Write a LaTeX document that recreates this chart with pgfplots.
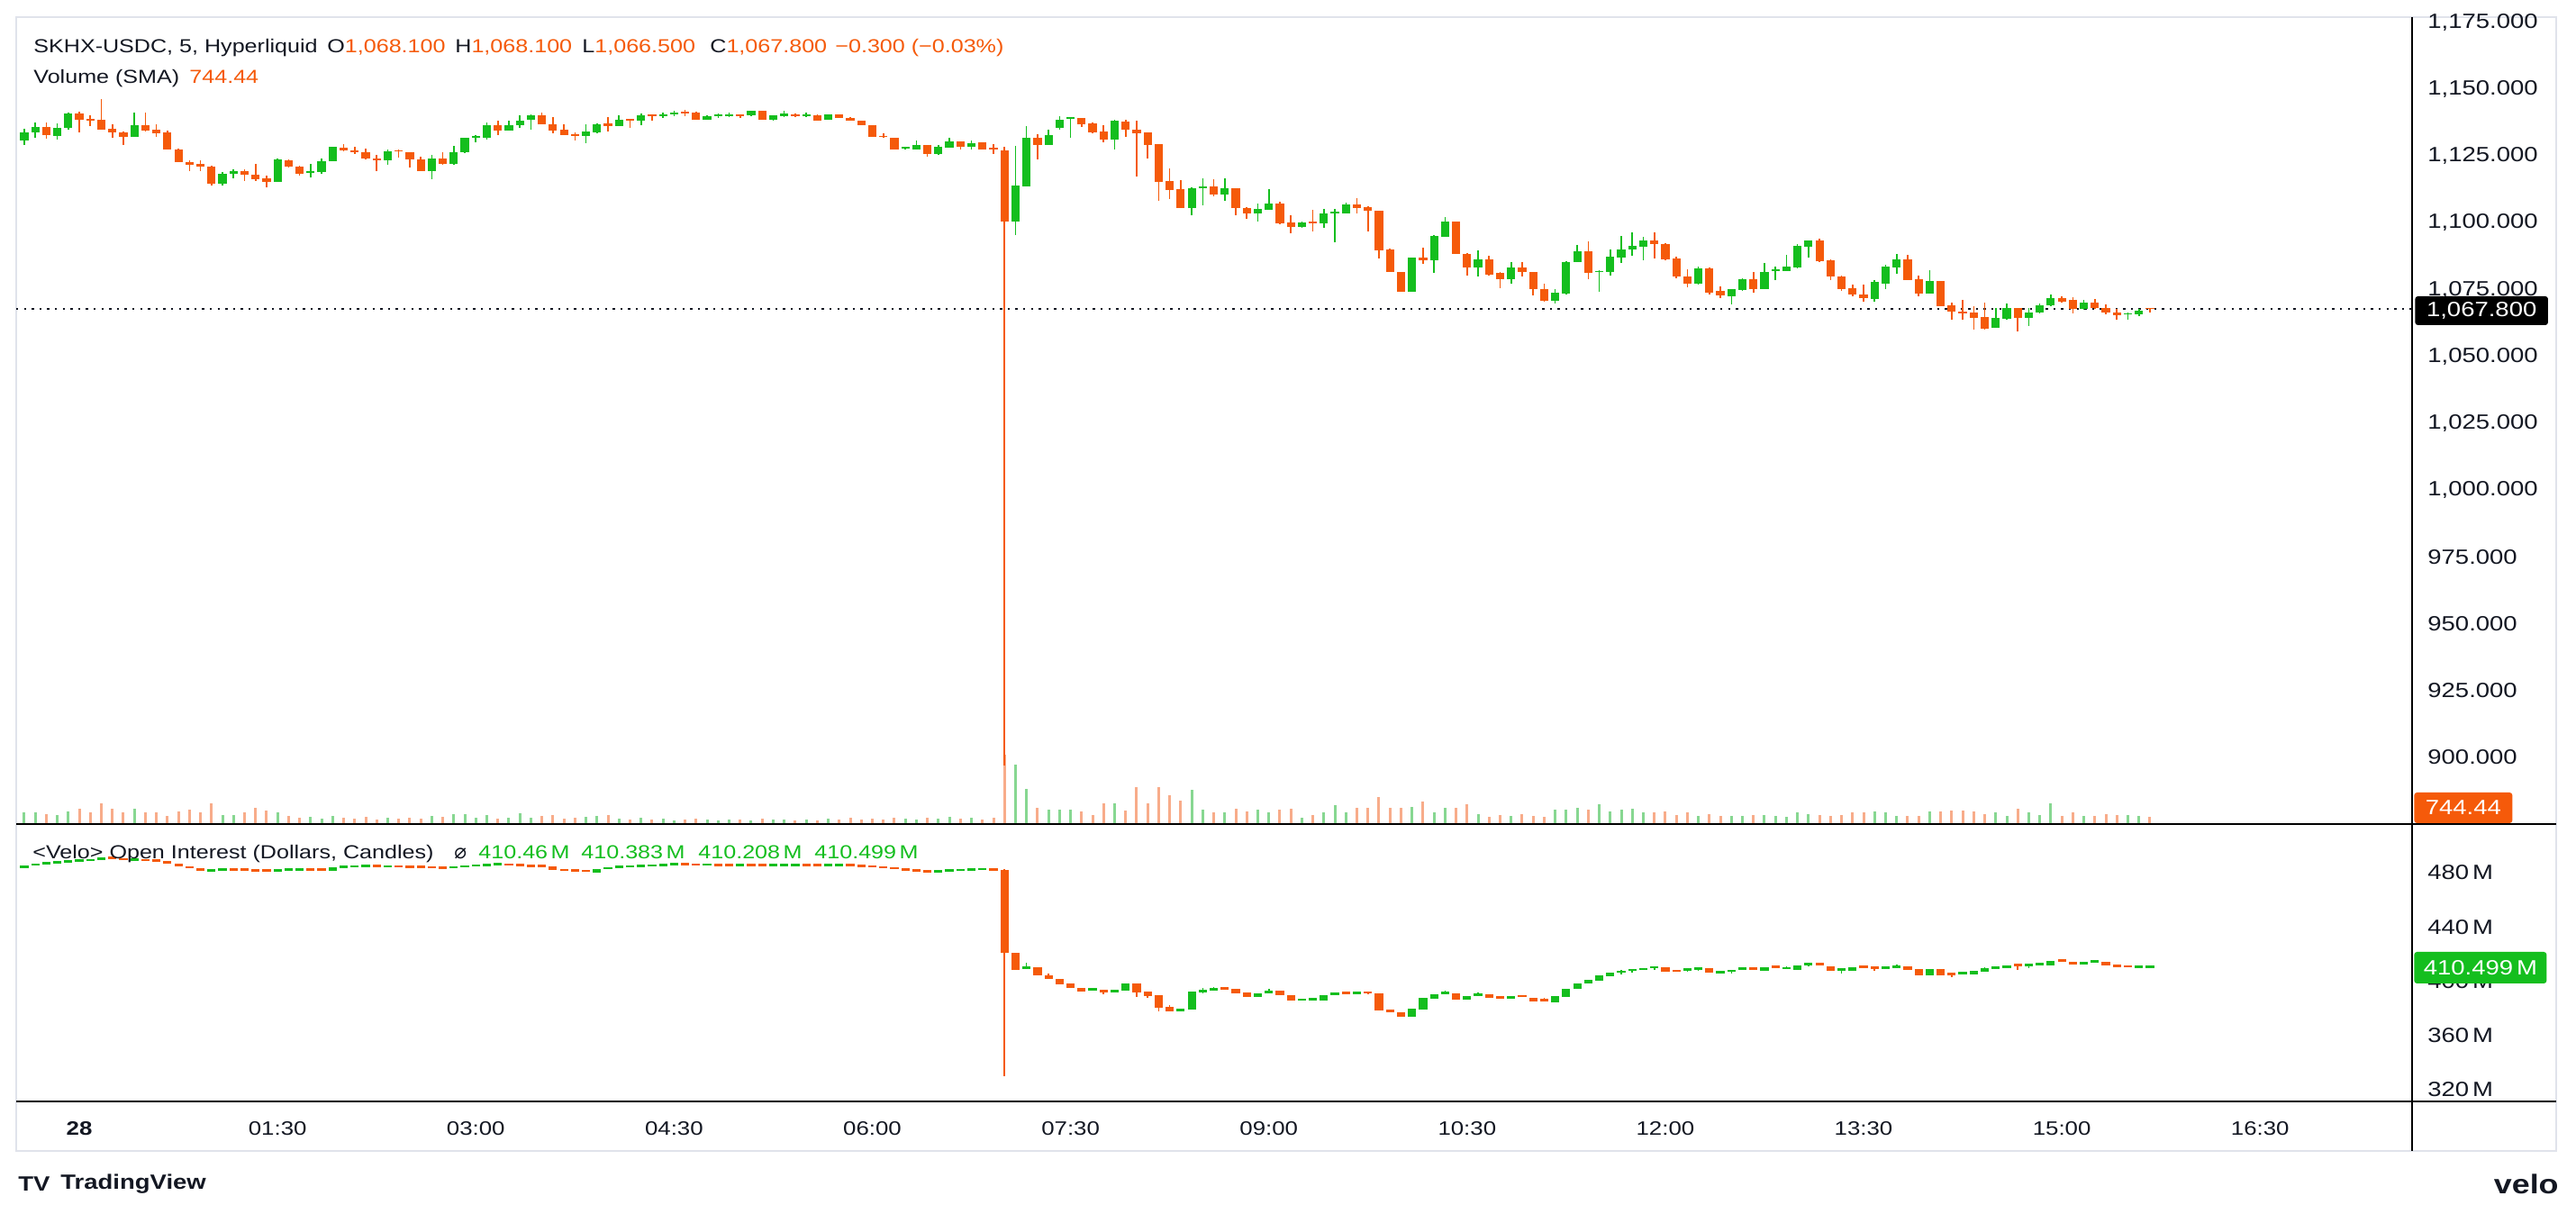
\documentclass[border=0pt]{standalone}
\usepackage{pgfplots}
\pgfplotsset{compat=1.18}
\usepackage{pgfplotstable}
\usepackage{fontspec}
\setmainfont[FakeStretch=1.2]{Liberation Sans}
\newfontfamily\djv{DejaVu Sans}
\definecolor{cg}{RGB}{20,190,30}
\definecolor{co}{RGB}{245,90,10}
\definecolor{vg}{RGB}{135,215,145}
\definecolor{vo}{RGB}{248,172,138}
\definecolor{txt}{RGB}{19,23,34}
\definecolor{frm}{RGB}{224,227,235}

\pgfplotstableread{
n o h l c v
1 1130.9 1135.1 1129.2 1133.9 744
2 1133.7 1137.6 1131.7 1135.9 744
3 1135.9 1137.6 1131.4 1132.8 620
4 1132.6 1137.3 1131.2 1135.7 558
5 1135.4 1141.3 1135.0 1141.0 806
6 1141.0 1141.5 1133.7 1138.4 992
7 1138.7 1140.2 1136.2 1138.4 744
8 1138.5 1146.3 1134.8 1135.0 1364
9 1135.1 1136.8 1131.7 1133.7 992
10 1133.9 1134.2 1129.2 1132.3 744
11 1132.3 1141.3 1132.3 1136.5 992
12 1136.5 1141.3 1134.2 1134.5 744
13 1134.8 1136.8 1132.0 1133.5 744
14 1133.7 1134.6 1127.3 1127.3 496
15 1127.5 1127.9 1122.7 1122.7 806
16 1122.7 1123.4 1119.5 1121.8 930
17 1121.9 1123.4 1119.5 1121.1 744
18 1121.1 1121.3 1114.0 1114.8 1364
19 1114.8 1119.1 1114.0 1118.5 558
20 1118.2 1120.0 1116.6 1119.4 558
21 1119.3 1119.9 1115.7 1118.0 744
22 1118.0 1122.1 1115.7 1116.3 1054
23 1116.6 1117.8 1113.3 1115.4 868
24 1115.2 1124.2 1115.2 1123.6 744
25 1123.4 1123.6 1120.8 1121.0 496
26 1121.1 1121.3 1117.8 1118.2 372
27 1118.9 1121.9 1116.9 1119.3 434
28 1118.9 1124.2 1118.5 1123.0 310
29 1122.9 1128.6 1122.9 1128.3 496
30 1128.1 1129.4 1126.7 1127.0 372
31 1127.0 1128.6 1125.6 1126.5 310
32 1126.4 1127.9 1123.8 1124.0 434
33 1124.0 1125.3 1119.5 1123.6 248
34 1123.4 1127.5 1121.6 1126.7 372
35 1127.2 1127.5 1124.5 1126.7 310
36 1126.4 1126.4 1120.8 1123.6 372
37 1123.8 1124.7 1119.3 1119.3 310
38 1119.3 1125.3 1116.2 1124.0 496
39 1124.2 1126.4 1121.6 1122.1 434
40 1122.2 1128.9 1121.6 1126.4 620
41 1126.4 1132.0 1126.2 1131.7 620
42 1131.9 1132.8 1130.1 1132.2 372
43 1131.7 1137.6 1131.2 1136.5 558
44 1136.5 1138.4 1132.8 1134.5 310
45 1134.5 1138.4 1134.5 1136.5 372
46 1136.4 1140.2 1135.7 1138.4 682
47 1138.4 1140.6 1135.0 1140.2 372
48 1140.2 1141.3 1136.8 1136.8 496
49 1136.8 1139.5 1133.5 1134.6 558
50 1135.0 1136.8 1132.8 1132.8 310
51 1133.1 1133.7 1130.9 1132.6 372
52 1132.6 1136.8 1129.8 1134.2 434
53 1133.9 1137.3 1133.5 1136.8 496
54 1137.1 1139.5 1134.2 1136.2 558
55 1136.2 1140.2 1136.2 1138.6 310
56 1138.7 1138.7 1135.4 1138.5 248
57 1138.2 1141.0 1136.5 1140.2 372
58 1140.6 1140.6 1138.2 1140.2 248
59 1139.9 1141.3 1139.1 1140.6 310
60 1140.6 1141.8 1139.9 1141.3 186
61 1141.5 1142.4 1139.9 1141.1 248
62 1141.3 1141.5 1138.7 1138.7 310
63 1138.7 1140.2 1138.4 1139.9 248
64 1140.0 1141.0 1139.1 1140.4 186
65 1140.2 1141.3 1139.5 1140.6 248
66 1140.6 1140.6 1139.1 1140.2 248
67 1140.2 1142.0 1139.9 1141.8 186
68 1141.8 1142.0 1138.7 1138.7 310
69 1138.6 1140.2 1138.2 1140.2 248
70 1140.0 1141.8 1139.7 1141.0 248
71 1140.6 1141.0 1139.7 1139.9 186
72 1140.2 1141.3 1139.7 1140.6 248
73 1140.4 1140.6 1138.4 1138.4 186
74 1138.4 1140.6 1138.4 1140.6 310
75 1140.6 1140.6 1139.1 1139.1 248
76 1139.3 1139.7 1138.2 1138.2 372
77 1138.4 1138.4 1136.5 1136.5 248
78 1136.5 1136.5 1132.0 1132.0 310
79 1132.6 1133.5 1132.0 1132.1 248
80 1131.9 1132.0 1127.3 1127.3 372
81 1127.7 1128.6 1127.5 1128.3 310
82 1127.5 1130.9 1127.3 1129.2 248
83 1129.2 1129.2 1124.7 1125.6 372
84 1125.6 1129.2 1125.3 1128.3 310
85 1128.1 1131.7 1128.1 1130.5 434
86 1130.5 1130.5 1127.5 1128.6 310
87 1128.6 1130.9 1127.5 1129.8 372
88 1130.1 1130.3 1127.5 1127.5 248
89 1128.1 1129.4 1125.6 1127.6 372
90 1127.2 1128.6 897.0 1100.4 4712
91 1100.4 1128.9 1095.3 1114.0 4030
92 1113.7 1136.2 1113.7 1131.7 2356
93 1131.7 1133.1 1123.6 1129.2 1054
94 1129.2 1134.8 1129.2 1132.8 930
95 1135.7 1139.9 1135.0 1138.7 930
96 1139.1 1139.5 1131.7 1139.3 930
97 1139.1 1139.3 1135.7 1136.8 806
98 1137.1 1137.6 1133.5 1134.0 558
99 1134.2 1136.5 1130.3 1131.2 1364
100 1131.2 1138.4 1127.5 1138.2 1364
101 1138.0 1138.4 1132.0 1134.8 868
102 1135.0 1138.4 1117.2 1133.5 2480
103 1133.7 1133.8 1124.1 1129.2 1364
104 1129.5 1129.6 1108.4 1115.2 2480
105 1115.5 1120.4 1109.0 1112.4 1922
106 1112.7 1116.0 1105.4 1105.6 1550
107 1105.6 1113.3 1103.0 1113.1 2294
108 1113.1 1116.6 1106.7 1113.7 930
109 1113.5 1116.3 1109.8 1110.7 744
110 1110.7 1116.6 1108.1 1112.9 744
111 1112.9 1112.9 1103.0 1105.4 992
112 1105.6 1105.9 1101.4 1103.4 806
113 1103.4 1107.3 1100.6 1105.1 930
114 1104.7 1112.6 1104.7 1107.3 744
115 1107.3 1107.9 1099.5 1099.7 930
116 1100.0 1102.8 1096.1 1098.3 992
117 1098.3 1100.6 1098.0 1100.2 372
118 1100.6 1104.8 1096.6 1100.0 558
119 1099.7 1105.3 1098.0 1103.6 744
120 1103.7 1105.3 1092.7 1104.3 1240
121 1103.6 1107.6 1103.6 1107.0 744
122 1107.0 1109.3 1103.6 1105.4 1054
123 1105.8 1106.2 1096.6 1104.5 1054
124 1104.5 1104.5 1086.5 1089.6 1798
125 1089.9 1090.5 1081.5 1081.5 1054
126 1081.7 1081.7 1074.2 1074.2 1054
127 1074.2 1087.1 1074.2 1087.1 1116
128 1087.1 1090.8 1084.5 1086.0 1488
129 1086.0 1095.3 1081.2 1095.0 744
130 1094.6 1102.0 1094.6 1100.6 1054
131 1100.6 1100.6 1088.2 1088.2 1054
132 1088.5 1088.8 1080.2 1083.2 1302
133 1083.2 1089.7 1079.8 1086.2 620
134 1086.2 1087.7 1080.2 1080.7 434
135 1081.2 1081.5 1075.5 1079.0 558
136 1079.0 1085.4 1077.2 1083.4 496
137 1083.4 1085.2 1079.8 1081.5 620
138 1081.7 1081.7 1072.7 1075.1 496
139 1075.3 1077.3 1070.6 1070.8 434
140 1070.8 1075.3 1069.7 1074.0 930
141 1073.6 1085.8 1073.3 1085.4 930
142 1085.2 1091.8 1085.2 1089.4 1054
143 1089.4 1093.1 1079.0 1081.3 930
144 1081.5 1082.3 1074.2 1082.1 1302
145 1081.7 1089.9 1080.4 1087.4 806
146 1087.1 1095.0 1084.9 1090.1 930
147 1089.9 1096.3 1087.7 1091.3 992
148 1091.0 1094.6 1086.0 1093.3 744
149 1093.3 1096.6 1086.8 1091.9 744
150 1092.1 1092.4 1086.0 1086.2 806
151 1086.6 1087.4 1079.2 1079.8 558
152 1080.0 1082.6 1075.9 1077.3 744
153 1077.3 1083.5 1076.8 1082.9 496
154 1082.9 1083.2 1073.1 1074.0 620
155 1074.4 1076.2 1071.9 1072.7 496
156 1072.5 1075.3 1069.4 1075.1 496
157 1074.8 1079.2 1074.4 1079.0 496
158 1079.0 1081.5 1074.0 1075.3 558
159 1075.3 1084.9 1075.3 1081.7 558
160 1081.8 1083.5 1078.5 1082.5 496
161 1081.8 1087.9 1081.8 1083.7 434
162 1083.4 1092.2 1082.8 1091.3 744
163 1091.0 1093.3 1086.9 1093.3 620
164 1093.3 1094.2 1085.4 1085.7 558
165 1086.0 1086.3 1078.7 1079.8 496
166 1080.0 1080.4 1074.4 1075.3 558
167 1075.7 1076.8 1072.5 1073.1 744
168 1073.3 1076.8 1070.6 1071.7 744
169 1071.4 1078.4 1070.5 1077.8 806
170 1077.3 1084.3 1075.1 1083.5 744
171 1083.2 1088.2 1080.9 1086.2 496
172 1086.2 1087.9 1078.7 1078.7 496
173 1079.0 1080.2 1072.5 1073.6 496
174 1073.6 1082.4 1073.6 1078.4 806
175 1078.4 1078.4 1068.9 1068.9 806
176 1069.2 1070.3 1063.7 1066.9 868
177 1066.9 1071.1 1063.7 1066.1 868
178 1066.3 1068.9 1060.2 1064.4 806
179 1064.7 1070.3 1059.9 1060.5 620
180 1060.7 1068.2 1060.7 1064.3 744
181 1064.1 1069.9 1063.8 1068.2 496
182 1068.2 1068.2 1059.4 1064.3 992
183 1064.4 1068.2 1061.3 1066.6 744
184 1066.3 1069.9 1066.1 1069.2 558
185 1069.2 1073.1 1068.9 1071.9 1364
186 1071.9 1072.5 1070.1 1070.6 496
187 1071.1 1072.3 1066.1 1067.7 744
188 1067.7 1071.1 1067.5 1070.3 496
189 1070.3 1071.6 1067.7 1068.0 496
190 1068.0 1069.5 1065.6 1066.3 620
191 1066.6 1067.7 1063.8 1065.5 558
192 1065.8 1066.6 1063.8 1066.1 558
193 1065.8 1067.8 1065.2 1067.1 496
194 1068.1 1068.1 1066.5 1067.8 434
}\price

\pgfplotstableread{
n o h l c
1 483.3 485.4 483.3 485.4
2 485.4 486.5 485.4 486.5
3 486.5 487.5 486.5 487.5
4 487.5 488.0 487.5 488.0
5 488.0 488.5 488.0 488.5
6 488.5 489.0 488.5 489.0
7 489.0 489.5 489.0 489.5
8 489.5 491.0 489.5 491.0
9 491.0 491.0 490.5 490.5
10 490.5 490.5 489.5 489.5
11 489.5 489.6 489.5 489.6
12 489.6 489.6 489.0 489.0
13 489.0 489.0 488.6 488.6
14 488.6 488.6 486.5 486.5
15 486.5 486.5 484.5 484.5
16 484.5 484.5 483.4 483.4
17 483.4 483.4 481.6 481.6
18 481.6 482.0 481.6 482.0
19 482.0 482.4 482.0 482.4
20 482.4 482.4 482.3 482.3
21 482.3 482.3 482.0 482.0
22 482.0 482.0 481.6 481.6
23 481.6 481.6 481.2 481.2
24 480.4 482.3 480.4 482.3
25 482.3 482.4 482.3 482.4
26 482.4 482.5 482.4 482.5
27 482.5 482.5 482.3 482.3
28 482.3 482.3 482.1 482.1
29 481.2 484.0 481.2 484.0
30 484.0 484.5 484.0 484.5
31 484.5 484.9 484.5 484.9
32 484.9 485.0 484.9 485.0
33 485.0 485.0 484.6 484.6
34 484.6 484.8 484.6 484.8
35 484.8 484.8 484.5 484.5
36 484.5 484.5 484.3 484.3
37 484.3 484.3 484.1 484.1
38 484.1 484.1 483.6 483.6
39 483.6 483.6 483.5 483.5
40 483.5 484.2 483.5 484.2
41 484.2 485.0 484.2 485.0
42 485.0 485.5 485.0 485.5
43 485.5 486.0 485.5 486.0
44 486.0 486.1 486.0 486.1
45 486.1 486.1 485.7 485.7
46 485.7 485.7 485.3 485.3
47 485.3 485.3 485.0 485.0
48 485.0 485.0 484.6 484.6
49 484.6 484.6 482.2 482.2
50 482.2 482.2 481.8 481.8
51 481.8 481.8 481.5 481.5
52 481.5 481.5 481.0 481.0
53 480.2 482.5 480.2 482.5
54 482.5 484.0 482.5 484.0
55 484.0 484.5 484.0 484.5
56 484.5 484.8 484.5 484.8
57 484.8 485.0 484.8 485.0
58 485.0 485.5 485.0 485.5
59 485.5 486.0 485.5 486.0
60 486.0 486.1 486.0 486.1
61 486.1 486.1 486.0 486.0
62 486.0 486.0 485.8 485.8
63 485.8 485.9 485.8 485.9
64 485.9 485.9 485.6 485.6
65 485.6 485.6 485.5 485.5
66 485.5 485.6 485.5 485.6
67 485.6 485.6 485.5 485.5
68 485.5 485.5 485.4 485.4
69 485.4 485.5 485.4 485.5
70 485.5 485.6 485.5 485.6
71 485.6 485.7 485.6 485.7
72 485.7 485.7 485.5 485.5
73 485.5 485.5 485.4 485.4
74 485.4 485.6 485.4 485.6
75 485.6 485.7 485.6 485.7
76 485.7 485.7 485.3 485.3
77 485.3 485.3 484.8 484.8
78 484.8 484.8 484.5 484.5
79 484.5 484.5 483.5 483.5
80 483.5 483.5 483.0 483.0
81 483.0 483.0 482.0 482.0
82 482.0 482.0 481.5 481.5
83 481.5 481.5 480.8 480.8
84 480.3 481.2 480.3 481.2
85 481.2 481.8 481.2 481.8
86 481.8 482.2 481.8 482.2
87 482.2 482.5 482.2 482.5
88 482.5 482.6 482.5 482.6
89 482.6 482.6 482.3 482.3
90 482.2 482.4 330.1 420.7
91 420.7 420.7 408.6 408.6
92 409.0 413.4 409.0 410.8
93 410.3 410.3 404.1 404.1
94 404.6 405.9 401.5 401.5
95 401.5 401.5 398.0 398.0
96 398.2 398.2 394.8 394.8
97 394.8 394.8 392.6 392.6
98 393.5 394.2 393.5 394.2
99 393.5 393.5 390.4 391.5
100 391.5 393.5 391.5 393.5
101 393.1 398.2 393.1 398.2
102 398.6 398.6 388.7 392.0
103 392.4 392.4 388.0 389.3
104 389.8 389.8 377.6 380.5
105 381.4 382.5 377.6 377.6
106 377.6 379.8 377.6 379.8
107 379.4 392.4 379.4 392.4
108 392.0 394.8 391.3 393.5
109 393.7 395.7 393.7 394.8
110 395.3 395.3 394.0 394.0
111 394.2 394.2 391.3 391.3
112 391.7 391.7 388.7 388.7
113 388.7 390.9 388.2 390.9
114 390.9 394.2 390.9 393.1
115 393.1 393.1 389.5 389.5
116 389.8 389.8 386.0 386.0
117 386.0 386.9 386.0 386.9
118 386.0 387.8 386.0 387.1
119 386.0 389.8 386.0 389.8
120 389.8 392.0 389.8 391.3
121 391.7 391.7 390.9 390.9
122 390.9 392.2 390.9 392.2
123 392.2 392.2 390.2 391.3
124 391.3 391.3 378.7 378.7
125 379.1 379.1 376.9 376.9
126 377.1 377.1 374.0 374.0
127 374.0 379.8 374.0 379.8
128 379.4 387.5 379.4 387.5
129 387.1 390.4 387.1 390.4
130 390.9 393.1 390.9 392.0
131 391.3 391.3 386.4 386.4
132 386.4 389.1 386.4 389.1
133 389.5 391.5 389.5 390.9
134 390.2 390.2 387.5 387.5
135 388.7 388.7 387.3 387.3
136 386.9 389.1 386.9 389.1
137 389.5 389.5 388.7 388.7
138 387.8 387.8 385.3 385.3
139 386.4 387.5 385.3 385.3
140 384.7 389.1 384.7 389.1
141 388.7 394.2 388.7 394.2
142 394.2 398.6 394.2 398.6
143 398.6 400.8 398.6 400.8
144 400.4 404.6 400.4 404.6
145 403.9 406.4 403.9 406.4
146 406.4 408.1 405.3 407.5
147 407.7 409.0 406.4 409.0
148 408.1 409.7 408.1 409.7
149 409.9 410.8 408.6 410.8
150 410.3 410.3 407.2 407.2
151 408.1 408.1 407.2 407.2
152 408.1 408.8 406.8 408.8
153 408.8 409.4 407.5 409.4
154 409.4 409.4 406.4 406.4
155 406.1 406.8 406.1 406.8
156 407.2 407.9 405.9 407.9
157 409.0 409.7 409.0 409.7
158 409.7 409.7 409.0 409.0
159 407.5 410.3 407.5 410.3
160 411.0 411.0 410.1 410.1
161 409.0 411.2 409.0 410.1
162 408.6 411.7 408.6 411.7
163 411.9 413.0 410.8 413.0
164 413.0 413.0 412.1 412.1
165 410.8 410.8 407.5 407.5
166 407.9 409.0 405.9 409.0
167 407.9 410.3 407.9 410.3
168 411.0 411.0 410.1 410.1
169 410.6 410.6 407.5 409.7
170 409.4 410.3 409.4 410.3
171 409.9 412.3 409.9 411.2
172 411.2 411.2 408.6 408.6
173 409.0 409.0 404.6 404.6
174 404.6 409.0 404.6 409.0
175 409.0 409.0 404.6 404.6
176 405.7 405.7 403.0 404.8
177 405.5 406.4 405.5 406.4
178 405.2 407.5 405.2 407.5
179 407.2 410.3 407.2 409.4
180 409.4 410.3 409.4 410.3
181 409.4 411.7 409.4 411.7
182 412.3 412.3 408.6 411.4
183 411.4 412.3 409.5 412.3
184 411.9 413.0 411.9 413.0
185 411.7 415.2 411.7 415.2
186 415.6 415.6 414.8 414.8
187 414.5 414.5 412.5 412.5
188 412.5 414.1 412.5 414.1
189 414.1 415.2 414.1 415.2
190 414.1 414.1 411.9 411.9
191 412.1 412.1 410.6 410.6
192 411.4 411.4 410.6 410.6
193 410.1 411.0 410.1 411.0
194 410.46 410.6 410.208 410.499
}\oi

\pgfplotsset{
  candle/.style n args={2}{draw=none, mark=none, forget plot,
     restrict y to domain=0:5000,
     error bars/y dir=both, error bars/y explicit, error bars/error mark=none,
     error bars/error bar style={line width=#1, draw=#2, line cap=butt}},
  panel/.style={scale only axis, width=1330bp, xmin=-0.4775, xmax=17.65,
     /pgf/number format/assume math mode=true,
     tick label style={text=txt, font=\fontsize{11.5}{13}\selectfont}},
}

\begin{document}
\begin{tikzpicture}[font=\fontsize{10.5}{12.5}\selectfont]
\useasboundingbox (0,0) rectangle (1430bp,674bp);
\fill[white] (0,0) rectangle (1430bp,674bp);
\draw[frm, line width=0.7bp] (9bp,35bp) rectangle (1419bp,664.5bp);

% ---- volume (top pane, bottom) ----
\begin{axis}[panel, at={(9bp,217bp)}, anchor=south west, height=447.5bp,
  ymin=0, ymax=55490, hide axis]
\addplot[ycomb, mark=none, line width=1.5bp, draw=vg, restrict y to domain=0:100000]
  table[x expr=(\thisrow{n}-6)/12, y expr={\thisrow{v}+1000000*(\thisrow{c}<\thisrow{o})}] {\price};
\addplot[ycomb, mark=none, line width=1.5bp, draw=vo, restrict y to domain=0:100000]
  table[x expr=(\thisrow{n}-6)/12, y expr={\thisrow{v}+1000000*(\thisrow{c}>=\thisrow{o})}] {\price};
\end{axis}

% ---- price candles ----
\begin{axis}[panel, at={(9bp,217bp)}, anchor=south west, height=447.5bp,
  ymin=875.3, ymax=1177,
  axis x line=none, axis y line*=right, y axis line style={draw=none},
  ytick={900,925,...,1175}, ytick style={draw=none},
  yticklabel style={anchor=west, inner sep=0pt, xshift=8.5bp},
  yticklabel={\pgfmathprintnumber[fixed,fixed zerofill,precision=3,1000 sep={,}]{\tick}}]
\addplot[forget plot, line width=1.2bp, dash pattern=on 1.2bp off 3.1bp, draw=txt]
  coordinates {(-0.4775,1067.8) (17.65,1067.8)};
\addplot[candle={0.8bp}{cg}] table[x expr=(\thisrow{n}-6)/12,
  y expr={(\thisrow{h}+\thisrow{l})/2+100000*(\thisrow{c}<\thisrow{o})},
  y error expr={(\thisrow{h}-\thisrow{l})/2}] {\price};
\addplot[candle={0.8bp}{co}] table[x expr=(\thisrow{n}-6)/12,
  y expr={(\thisrow{h}+\thisrow{l})/2+100000*(\thisrow{c}>=\thisrow{o})},
  y error expr={(\thisrow{h}-\thisrow{l})/2}] {\price};
\addplot[candle={4.6bp}{cg}] table[x expr=(\thisrow{n}-6)/12,
  y expr={(\thisrow{o}+\thisrow{c})/2+100000*(\thisrow{c}<\thisrow{o})},
  y error expr={max(abs(\thisrow{o}-\thisrow{c})/2,0.3)}] {\price};
\addplot[candle={4.6bp}{co}] table[x expr=(\thisrow{n}-6)/12,
  y expr={(\thisrow{o}+\thisrow{c})/2+100000*(\thisrow{c}>=\thisrow{o})},
  y error expr={max(abs(\thisrow{o}-\thisrow{c})/2,0.3)}] {\price};
\end{axis}

% ---- open interest ----
\begin{axis}[panel, at={(9bp,62.5bp)}, anchor=south west, height=154bp,
  ymin=311.4, ymax=515.8,
  axis x line*=bottom, axis y line*=right, axis line style={draw=none},
  ytick={320,360,400,440,480}, yticklabels={320\,M,360\,M,400\,M,440\,M,480\,M},
  xtick={0,1.5,3,4.5,6,7.5,9,10.5,12,13.5,15,16.5},
  xticklabels={\textbf{28},01:30,03:00,04:30,06:00,07:30,09:00,10:30,12:00,13:30,15:00,16:30},
  tick style={draw=none},
  yticklabel style={anchor=west, inner sep=0pt, xshift=8.5bp},
  xticklabel style={anchor=center, inner sep=0pt, yshift=-15bp, font=\fontsize{10.8}{12}\selectfont}]
\addplot[candle={0.8bp}{cg}] table[x expr=(\thisrow{n}-6)/12,
  y expr={(\thisrow{h}+\thisrow{l})/2+100000*(\thisrow{c}<\thisrow{o})},
  y error expr={(\thisrow{h}-\thisrow{l})/2}] {\oi};
\addplot[candle={0.8bp}{co}] table[x expr=(\thisrow{n}-6)/12,
  y expr={(\thisrow{h}+\thisrow{l})/2+100000*(\thisrow{c}>=\thisrow{o})},
  y error expr={(\thisrow{h}-\thisrow{l})/2}] {\oi};
\addplot[candle={4.6bp}{cg}] table[x expr=(\thisrow{n}-6)/12,
  y expr={(\thisrow{o}+\thisrow{c})/2+100000*(\thisrow{c}<\thisrow{o})},
  y error expr={max(abs(\thisrow{o}-\thisrow{c})/2,0.9)}] {\oi};
\addplot[candle={4.6bp}{co}] table[x expr=(\thisrow{n}-6)/12,
  y expr={(\thisrow{o}+\thisrow{c})/2+100000*(\thisrow{c}>=\thisrow{o})},
  y error expr={max(abs(\thisrow{o}-\thisrow{c})/2,0.9)}] {\oi};
\end{axis}

% ---- pane separators and price scale line ----
\draw[black, line width=1.1bp] (9bp,216.5bp) -- (1419bp,216.5bp);
\draw[black, line width=1.1bp] (9bp,62.5bp) -- (1419bp,62.5bp);
\draw[black, line width=0.7bp] (1339bp,35bp) -- (1339bp,664.5bp);

% ---- price scale boxes ----
\node[fill=black, text=white, rounded corners=1.5bp, anchor=west, minimum height=16bp, inner xsep=6.3bp, inner ysep=0pt, font=\fontsize{11.5}{13}\selectfont] at (1340.5bp,501.5bp) {1,067.800};
\node[fill=co, text=white, rounded corners=1.5bp, anchor=west, minimum height=17bp, inner xsep=6.2bp, inner ysep=0pt, font=\fontsize{11.5}{13}\selectfont] at (1340bp,225.5bp) {744.44};
\node[fill=cg, text=white, rounded corners=1.5bp, anchor=west, minimum height=17.5bp, inner xsep=5.2bp, inner ysep=0pt, font=\fontsize{11.5}{13}\selectfont] at (1340bp,136.75bp) {410.499\,M};

% ---- legends ----
\begin{scope}[every node/.style={anchor=base west, inner sep=0pt}]
\node[text=txt] at (18.5bp,644.5bp) {SKHX-USDC, 5, Hyperliquid};
\node[text=txt] at (181.5bp,644.5bp) {O\textcolor{co}{1,068.100}};
\node[text=txt] at (252.5bp,644.5bp) {H\textcolor{co}{1,068.100}};
\node[text=txt] at (323bp,644.5bp) {L\textcolor{co}{1,066.500}};
\node[text=txt] at (394bp,644.5bp) {C\textcolor{co}{1,067.800}};
\node[text=co] at (463.5bp,644.5bp) {−0.300 (−0.03\%)};
\node[text=txt] at (18.5bp,627.5bp) {Volume (SMA)};
\node[text=co] at (105bp,627.5bp) {744.44};
\node[text=txt] at (18bp,197bp) {<Velo> Open Interest (Dollars, Candles)};
\node[text=txt] at (252bp,197bp) {\djv\fontsize{11.5}{13}\selectfont ⌀};
\node[text=cg] at (265.5bp,197bp) {410.46\,M};
\node[text=cg] at (322.5bp,197bp) {410.383\,M};
\node[text=cg] at (387.5bp,197bp) {410.208\,M};
\node[text=cg] at (452bp,197bp) {410.499\,M};
\end{scope}

% ---- footer ----
\node[anchor=west, inner sep=0pt, text=txt, font=\fontsize{11.5}{13}\selectfont\bfseries] at (10bp,16.5bp) {TV};
\node[anchor=west, inner sep=0pt, text=txt, font=\fontsize{11.5}{13}\selectfont\bfseries] at (33.5bp,16.5bp) {TradingView};
\node[anchor=east, inner sep=0pt, text=txt, font=\fontsize{15}{17}\selectfont\bfseries] at (1420.5bp,16.5bp) {velo};
\end{tikzpicture}
\end{document}
